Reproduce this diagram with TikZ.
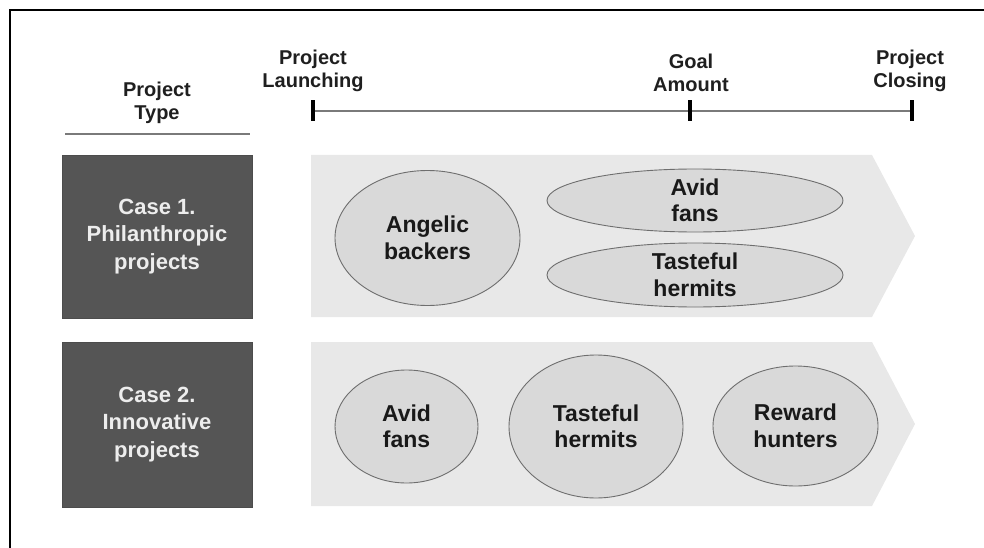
\documentclass[tikz,border=0pt]{standalone}
\usepackage{fontspec}
\setmainfont{Liberation Sans}
\usepackage{tikz}
\usetikzlibrary{shapes.geometric}
\definecolor{boxgray}{HTML}{555555}
\definecolor{bandgray}{HTML}{E8E8E8}
\definecolor{ovalgray}{HTML}{D9D9D9}
\definecolor{edgegray}{HTML}{6E6E6E}
\definecolor{rulegray}{HTML}{7A7A7A}
\tikzset{
    every node/.style={align=center, font=\bfseries}
}
\tikzset{
    head/.style={font=\fontsize{20}{23}\selectfont\bfseries, text=black!88},
    casebox/.style={rectangle, fill=boxgray, draw=black!70, line width=0.8pt,
        minimum width=190pt, text=white!93!black,
        font=\fontsize{22}{27.5}\selectfont\bfseries},
    oval/.style={ellipse, fill=ovalgray, draw=edgegray, line width=0.9pt,
        inner sep=0pt, text=black!90, font=\fontsize{23}{26.5}\selectfont\bfseries},
    band/.style={fill=bandgray},
    tickmark/.style={rectangle, fill=black, inner sep=0pt,
        minimum width=3.5pt, minimum height=21pt}
}

\begin{document}
\begin{tikzpicture}[x=1pt, y=-1pt]
  \useasboundingbox (0,0) rectangle (984,548);
  \draw[line width=1.6pt] (10,548) -- (10,10) -- (984,10);

  \node (ptype) [head] at (157,103) {Project\\Type};
  \draw[rulegray, line width=1.5pt] (65,134) -- (250,134);

  \node (launch) [head] at (313,71) {Project\\Launching};
  \node (goal) [head] at (691,73) {Goal\\Amount};
  \node (close) [head] at (910,71) {Project\\Closing};

  \node (t1) [tickmark] at (313,111) {};
  \node (t2) [tickmark] at (690,111) {};
  \node (t3) [tickmark] at (912,111) {};
  \draw[rulegray, line width=1.4pt] (t1) -- (t2) -- (t3);

  \fill[band] (311,155) -- (872,155) -- (915,236) -- (872,317) -- (311,317) -- cycle;
  \fill[band] (311,342) -- (872,342) -- (915,424) -- (872,506) -- (311,506) -- cycle;

  \node (case1) [casebox, minimum height=163pt] at (157,236.5)
    {Case 1.\\Philanthropic\\projects};
  \node (case2) [casebox, minimum height=165pt] at (157,424.5)
    {Case 2.\\Innovative\\projects};

  \node (ab) [oval, minimum width=185pt, minimum height=135pt] at (427.5,238)
    {Angelic\\backers};
  \node (af1) [oval, minimum width=296pt, minimum height=63pt] at (695,200.5)
    {Avid\\fans};
  \node (th1) [oval, minimum width=296pt, minimum height=64pt] at (695,275)
    {Tasteful\\hermits};

  \node (af2) [oval, minimum width=143pt, minimum height=113pt] at (406.5,426.5)
    {Avid\\fans};
  \node (th2) [oval, minimum width=174pt, minimum height=143pt] at (596,426.5)
    {Tasteful\\hermits};
  \node (rh) [oval, minimum width=165pt, minimum height=120pt] at (795.5,426)
    {Reward\\hunters};
\end{tikzpicture}
\end{document}
